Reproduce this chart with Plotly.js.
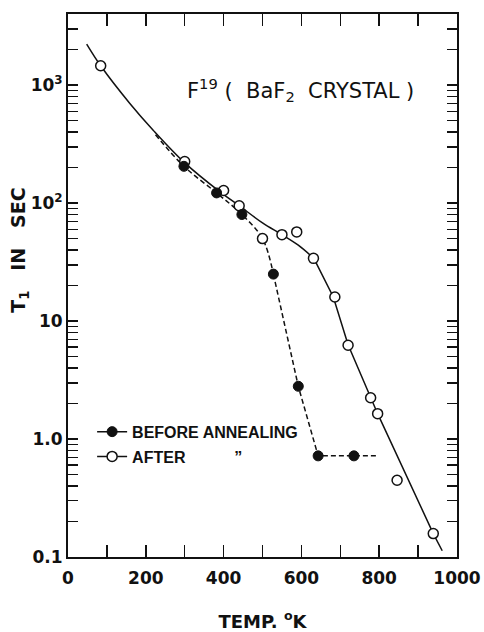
<!DOCTYPE html>
<html>
<head>
<meta charset="utf-8">
<script src="https://cdn.plot.ly/plotly-3.0.1.min.js"></script>
<style>html,body{margin:0;padding:0;background:#fff;}#chart{width:484px;height:632px;}</style>
</head>
<body>
<div id="chart"></div>
<script>
// Measured points: after annealing (open circles)
var afterT = [84, 300, 400, 440, 500, 550, 588, 631, 686, 720, 778, 796, 846, 939];
var afterV = [1460, 225, 128, 95, 50, 54, 57, 34, 16, 6.24, 2.24, 1.64, 0.447, 0.158];
// Measured points: before annealing (filled circles)
var beforeT = [298, 382, 447, 528, 592, 643, 735];
var beforeV = [205, 122, 80, 25, 2.8, 0.72, 0.72];
// Hand-drawn solid curve ("after"): smooth upper part, straight lower part
var afterCurveUpperT = [48, 84, 159, 219, 301, 390, 440, 500, 550, 592, 632];
var afterCurveUpperV = [2230, 1460, 700, 415, 218, 125, 95, 68, 54, 44, 34];
var afterCurveLowerT = [632, 682, 720, 778, 796, 939, 962];
var afterCurveLowerV = [34, 16, 6.3, 2.25, 1.64, 0.158, 0.113];
// Hand-drawn dashed curve ("before"): smooth upper part, straight lower part
var beforeCurveUpperT = [225, 298, 382, 447, 500, 528];
var beforeCurveUpperV = [380, 205, 122, 80, 50, 25];
var beforeCurveLowerT = [528, 592, 643, 735, 798];
var beforeCurveLowerV = [25, 2.8, 0.72, 0.72, 0.72];

var xTickVals = [0, 200, 400, 600, 800, 1000];
var xTickText = ['0', '200', '400', '600', '800', '1000'];
var xMinorVals = [100, 300, 500, 700, 900];
var yTickVals = [0.1, 1, 10, 100, 1000];
var yTickText = ['0.1', '1.0', '10', '10<sup>2</sup>', '10<sup>3</sup>'];
var yMinorVals = [0.2,0.3,0.4,0.5,0.6,0.7,0.8,0.9,2,3,4,5,6,7,8,9,20,30,40,50,60,70,80,90,200,300,400,500,600,700,800,900,2000,3000,4000];

var ink = '#111';
var solid = {color: ink, width: 1.5};
var dashed = {color: ink, width: 1.5, dash: '5px,3px'};
var traces = [
  {x: afterCurveUpperT, y: afterCurveUpperV, mode: 'lines', line: Object.assign({shape: 'spline', smoothing: 1}, solid), showlegend: false, hoverinfo: 'skip'},
  {x: afterCurveLowerT, y: afterCurveLowerV, mode: 'lines', line: solid, showlegend: false, hoverinfo: 'skip'},
  {x: beforeCurveUpperT, y: beforeCurveUpperV, mode: 'lines', line: Object.assign({shape: 'spline', smoothing: 1}, dashed), showlegend: false, hoverinfo: 'skip'},
  {x: beforeCurveLowerT, y: beforeCurveLowerV, mode: 'lines', line: dashed, showlegend: false, hoverinfo: 'skip'},
  {x: afterT, y: afterV, mode: 'markers', marker: {symbol: 'circle', size: 10, color: '#fff', line: {color: ink, width: 1.5}}, showlegend: false},
  {x: beforeT, y: beforeV, mode: 'markers', marker: {symbol: 'circle', size: 10, color: ink, line: {color: ink, width: 1}}, showlegend: false},
  {x: [null], y: [null], name: 'BEFORE ANNEALING', legendgroup: 'a', mode: 'lines+markers', line: solid, marker: {size: 10, color: ink, line: {color: ink, width: 1}}},
  {x: [null], y: [null], name: 'AFTER\u00a0\u00a0\u00a0\u00a0\u00a0\u00a0\u00a0\u00a0\u00a0\u00a0\u00a0\u201D', legendgroup: 'b', mode: 'lines+markers', line: solid, marker: {size: 10, color: '#fff', line: {color: ink, width: 1.5}}}
];

var tickFont = {family: 'DejaVu Sans', size: 17, color: ink, weight: 'bold'};
var layout = {
  width: 484, height: 632,
  margin: {l: 68, r: 27, t: 14, b: 75},
  paper_bgcolor: '#fff', plot_bgcolor: '#fff',
  showlegend: true,
  legend: {x: 0.062, y: 0.262, xanchor: 'left', yanchor: 'top', bgcolor: 'rgba(0,0,0,0)', tracegroupgap: 1,
           font: {family: 'Liberation Sans', size: 16, color: ink, weight: 'bold'}},
  xaxis: {range: [0, 1000], tickmode: 'array', tickvals: xTickVals, ticktext: xTickText,
          ticks: 'inside', ticklen: 12, tickwidth: 1.5, tickcolor: ink, mirror: 'ticks',
          minor: {tickmode: 'array', tickvals: xMinorVals, ticks: 'inside', ticklen: 12, tickwidth: 1.5, tickcolor: ink, showgrid: false},
          showline: true, linecolor: ink, linewidth: 2, showgrid: false, zeroline: false,
          tickfont: tickFont, ticklabelstandoff: 5,
          title: {text: 'TEMP.\u00a0<sup>o</sup>K', font: {family: 'DejaVu Sans', size: 18, color: ink, weight: 'bold'}, standoff: 28}},
  yaxis: {type: 'log', range: [-1, 3.603], tickmode: 'array', tickvals: yTickVals, ticktext: yTickText,
          ticks: 'inside', ticklen: 10, tickwidth: 1.5, tickcolor: ink, mirror: 'ticks',
          minor: {tickmode: 'array', tickvals: yMinorVals, ticks: 'inside', ticklen: 10, tickwidth: 1.5, tickcolor: ink, showgrid: false},
          showline: true, linecolor: ink, linewidth: 2, showgrid: false, zeroline: false,
          tickfont: tickFont, ticklabelstandoff: 0},
  annotations: [
    {xref: 'paper', yref: 'paper', x: 0.301, y: 0.86, xanchor: 'left', yanchor: 'middle', showarrow: false,
     text: 'F<sup>19</sup>\u00a0(\u00a0\u00a0BaF<sub>2</sub>\u00a0\u00a0CRYSTAL\u00a0)', font: {family: 'DejaVu Sans', size: 21, color: ink}},
    {xref: 'paper', yref: 'paper', x: -0.123, y: 0.566, xanchor: 'center', yanchor: 'middle', showarrow: false, textangle: -90,
     text: 'T<sub>1</sub>\u00a0\u00a0\u00a0IN\u00a0\u00a0\u00a0SEC', font: {family: 'DejaVu Sans', size: 19, color: ink, weight: 'bold'}}
  ]
};
Plotly.newPlot('chart', traces, layout, {staticPlot: true, displayModeBar: false});
</script>
</body>
</html>
